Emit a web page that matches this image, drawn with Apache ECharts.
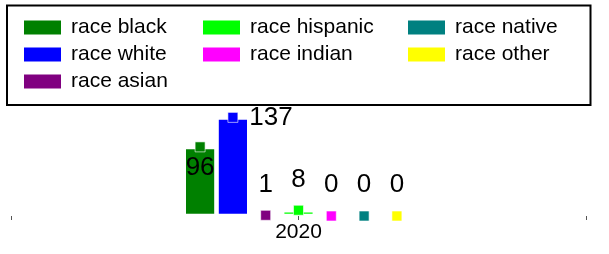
<!DOCTYPE html>
<html>
<head>
    <meta charset="utf-8">
    <title>race 2020</title>
    <script src="https://cdn.jsdelivr.net/npm/echarts@6/dist/echarts.min.js"></script>
    <style>
        html, body { margin: 0; padding: 0; background: #fff; }
        #main { width: 609px; height: 254px; }
    </style>
</head>
<body>
    <div id="main"></div>
    <script type="text/javascript">
        // data
        var categories = ['2020'];
        var seriesNames = ['race black', 'race white', 'race asian', 'race hispanic', 'race indian', 'race native', 'race other'];
        var seriesValues = [96, 137, 1, 8, 0, 0, 0];
        var palette = ['#008000', '#0000ff', '#800080', '#00ff00', '#ff00ff', '#008080', '#ffff00'];

        // legend is laid out in three columns
        var legendColumns = [seriesNames.slice(0, 3), seriesNames.slice(3, 5), seriesNames.slice(5, 7)];
        var legendLefts = [24, 203, 408];

        var myChart = echarts.init(document.getElementById('main'));

        function labelFor(i) {
            var label = { show: true, fontSize: 26, color: '#000', position: 'top', distance: 17 };
            if (i === 0) {
                label.position = 'insideTop';
                label.distance = 8;
            }
            if (i === 1) {
                label.position = ['100%', 0];
                label.align = 'left';
                label.verticalAlign = 'middle';
            }
            return label;
        }

        var option = {
            animation: false,
            color: palette,
            textStyle: { fontFamily: '"Liberation Sans", Arial, sans-serif' },
            grid: { left: 11, right: 23, top: 108, bottom: 38 },
            xAxis: [{
                type: 'category',
                data: categories,
                axisLine: { show: false },
                axisTick: { show: true, length: 4, lineStyle: { color: '#555' } },
                axisLabel: { fontSize: 21, color: '#000', margin: 6 }
            }, {
                type: 'category',
                data: categories,
                position: 'bottom',
                axisLine: { show: false },
                axisTick: { show: true, alignWithLabel: true, length: 4, lineStyle: { color: '#555' } },
                axisLabel: { show: false }
            }],
            yAxis: { type: 'value', min: 0, max: 150, show: false },
            legend: legendColumns.map(function (col, k) {
                return {
                    orient: 'vertical',
                    left: legendLefts[k],
                    top: 17,
                    padding: 0,
                    icon: 'rect',
                    itemWidth: 37,
                    itemHeight: 14,
                    itemGap: 6,
                    itemStyle: { borderWidth: 0 },
                    data: col,
                    textStyle: { fontSize: 21, lineHeight: 21, color: '#000', padding: [0, 0, 0, 5] }
                };
            }),
            graphic: [{
                type: 'rect',
                shape: { x: 7, y: 5.5, width: 583.5, height: 99.5 },
                style: { fill: 'none', stroke: '#000', lineWidth: 2 }
            }],
            series: seriesNames.map(function (name, i) {
                return {
                    type: 'bar',
                    name: name,
                    data: [seriesValues[i]],
                    barWidth: 32.8,
                    barGap: '0%',
                    itemStyle: { borderColor: '#fff', borderWidth: 2.3 },
                    label: labelFor(i),
                    markPoint: {
                        symbol: 'rect',
                        symbolSize: 10,
                        data: [{ type: 'max' }],
                        label: { show: false },
                        itemStyle: { borderColor: 'rgba(255,255,255,0.6)', borderWidth: 1 }
                    }
                };
            })
        };

        myChart.setOption(option);
    </script>
</body>
</html>
